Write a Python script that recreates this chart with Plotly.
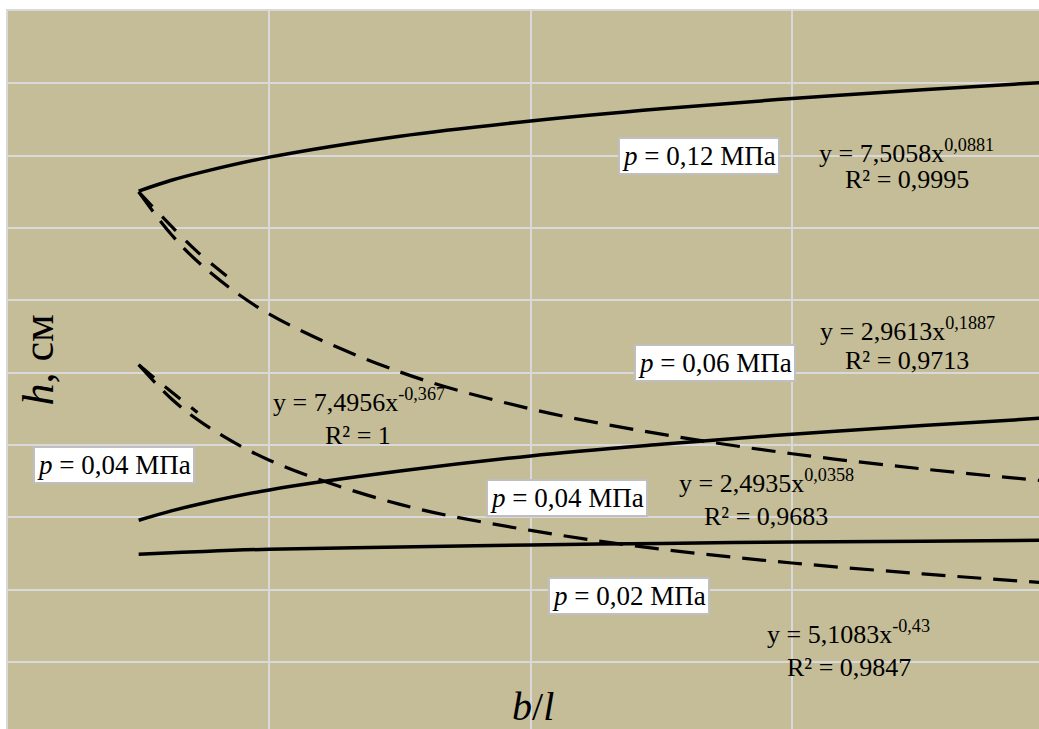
import plotly.graph_objects as go

# b/l values (x) at which curves are read
x_vals = [1.0, 1.25, 1.5, 2.0, 3.0, 4.0, 5.0, 6.0, 7.0, 7.9]

# solid curves (h, cm)
h_012_solid = [7.51, 7.66, 7.78, 7.98, 8.27, 8.48, 8.65, 8.79, 8.91, 9.01]
h_006_solid = [2.96, 3.09, 3.20, 3.38, 3.64, 3.85, 4.01, 4.15, 4.27, 4.37]
h_004_solid = [2.49, 2.51, 2.53, 2.56, 2.59, 2.62, 2.64, 2.66, 2.67, 2.685]

# dashed curves (h, cm)
h_012_dash = [7.50, 6.91, 6.46, 5.81, 5.01, 4.50, 4.15, 3.88, 3.67, 3.51]
h_004_dash = [5.11, 4.64, 4.29, 3.79, 3.18, 2.82, 2.56, 2.37, 2.22, 2.10]

# short doubled dashed segments visible near the start of the dashed curves
x_012_dash2 = [1.0, 1.2, 1.45, 1.7]
h_012_dash2 = [7.50, 7.12, 6.67, 6.30]
x_004_dash2 = [1.0, 1.2, 1.45]
h_004_dash2 = [5.11, 4.81, 4.45]

label_texts = ["<i>p</i> = 0,12 МПа", "<i>p</i> = 0,06 МПа", "<i>p</i> = 0,04 МПа",
               "<i>p</i> = 0,04 МПа", "<i>p</i> = 0,02 МПа"]
label_x = [5.29, 5.41, 0.81, 4.28, 4.75]
label_y = [7.99, 5.14, 3.72, 3.27, 1.91]

eq_texts = ["y = 7,5058x<sup>0,0881</sup>", "y = 2,9613x<sup>0,1887</sup>",
            "y = 7,4956x<sup>-0,367</sup>", "y = 2,4935x<sup>0,0358</sup>",
            "y = 5,1083x<sup>-0,43</sup>"]
eq_x = [6.877, 6.881, 2.683, 5.802, 6.429]
eq_y = [8.061, 5.601, 4.613, 3.501, 1.415]

r2_texts = ["R² = 0,9995", "R² = 0,9713", "R² = 1", "R² = 0,9683", "R² = 0,9847"]
r2_x = [6.877, 6.877, 2.679, 5.798, 6.433]
r2_y = [7.667, 5.173, 4.130, 3.018, 0.932]

BG = "#C4BD97"
GRID = "#D9D9D9"
FONT = "Liberation Serif"

fig = go.Figure()
for ys in [h_012_solid, h_006_solid, h_004_solid]:
    fig.add_trace(go.Scatter(x=x_vals, y=ys, mode="lines",
                             line=dict(color="black", width=3.5, shape="spline"),
                             showlegend=False, hoverinfo="skip"))
for ys in [h_012_dash, h_004_dash]:
    fig.add_trace(go.Scatter(x=x_vals, y=ys, mode="lines",
                             line=dict(color="black", width=3.2, shape="spline",
                                       dash="24px,12px"),
                             showlegend=False, hoverinfo="skip"))
for xs, ys in [(x_012_dash2, h_012_dash2), (x_004_dash2, h_004_dash2)]:
    fig.add_trace(go.Scatter(x=xs, y=ys, mode="lines",
                             line=dict(color="black", width=3.2, shape="spline",
                                       dash="20px,14px"),
                             showlegend=False, hoverinfo="skip"))

annotations = []
for t, xx, yy in zip(label_texts, label_x, label_y):
    annotations.append(dict(x=xx, y=yy, xref="x", yref="y", text=t, showarrow=False,
                            font=dict(family=FONT, size=27, color="black"),
                            bgcolor="white", bordercolor="#BFBFBF", borderwidth=2,
                            borderpad=2))
for t, xx, yy in list(zip(eq_texts, eq_x, eq_y)) + list(zip(r2_texts, r2_x, r2_y)):
    annotations.append(dict(x=xx, y=yy, xref="x", yref="y", text=t, showarrow=False,
                            align="center",
                            font=dict(family=FONT, size=26, color="black")))
annotations.append(dict(x=0.23, y=5.17, xref="x", yref="y", text="<i>h</i>, см",
                        showarrow=False, textangle=-90,
                        font=dict(family=FONT, size=44, color="black")))
annotations.append(dict(x=4.02, y=0.38, xref="x", yref="y", text="<i>b</i>/<i>l</i>",
                        showarrow=False,
                        font=dict(family=FONT, size=40, color="black")))

fig.update_layout(
    width=1039, height=729,
    margin=dict(l=8, r=0, t=11, b=0),
    paper_bgcolor="white", plot_bgcolor=BG,
    annotations=annotations,
    hovermode=False,
    xaxis=dict(range=[0, 7.89], dtick=2, tick0=0, showgrid=True, gridcolor=GRID,
               gridwidth=2, zeroline=False, showticklabels=False, ticks="",
               showline=True, linecolor=GRID, linewidth=2, side="top"),
    yaxis=dict(range=[0.075, 10], dtick=1, tick0=0, showgrid=True, gridcolor=GRID,
               gridwidth=2, zeroline=False, showticklabels=False, ticks="",
               showline=True, linecolor=GRID, linewidth=2),
)

fig.write_html("out.html",
               config={"displayModeBar": False},
               post_script="document.body.style.margin='0';"
                           "document.body.style.overflow='hidden';")
